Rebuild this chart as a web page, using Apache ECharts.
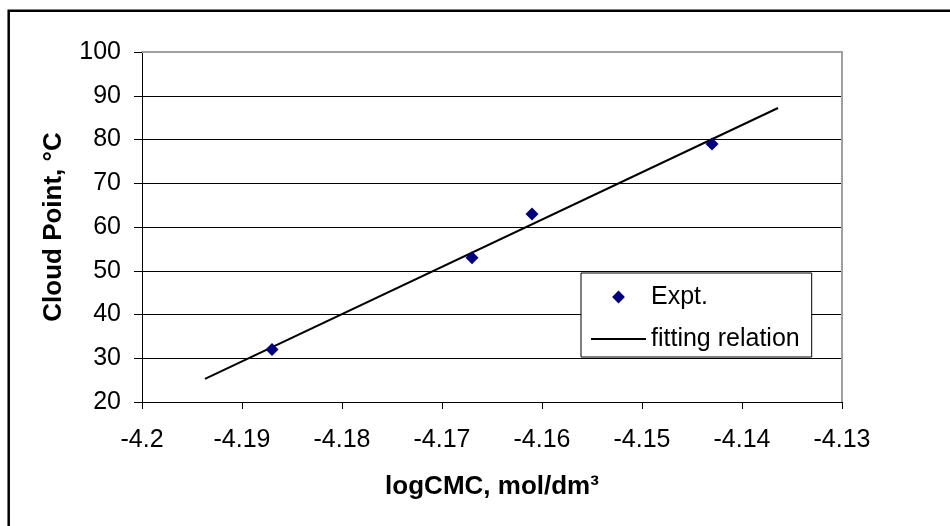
<!DOCTYPE html>
<html>
<head>
<meta charset="utf-8">
<title>Cloud point vs logCMC</title>
<script src="https://cdn.jsdelivr.net/npm/echarts@6/dist/echarts.min.js"></script>
<style>
  html, body { margin: 0; padding: 0; background: #fff; }
  #chart { width: 950px; height: 526px; }
</style>
</head>
<body>
<div id="chart"></div>
<script>
// Experimental cloud points
const exptLogCMC = [-4.187, -4.167, -4.161, -4.143];
const exptCloudPoint = [32, 53, 63, 79];

// End points of the fitted straight line
const fitLogCMC = [-4.1937, -4.1364];
const fitCloudPoint = [25.3, 87.2];

const seriesNames = ['Expt.', 'fitting relation'];
const xAxisTitle = 'logCMC, mol/dm\u00B3';
const yAxisTitle = 'Cloud Point, \u00B0C';

const FONT = '"Liberation Sans", Arial, sans-serif';

const chart = echarts.init(document.getElementById('chart'), null, { renderer: 'canvas' });

const zip = (xs, ys) => xs.map((x, i) => [x, ys[i]]);

chart.setOption({
  backgroundColor: '#ffffff',
  animation: false,
  grid: { left: 142, right: 108, top: 52, bottom: 124, containLabel: false },
  graphic: [{
    type: 'rect',
    shape: { x: 8.7, y: 10.7, width: 1200, height: 1200 },
    style: { fill: 'none', stroke: '#000', lineWidth: 2.5 },
    silent: true
  }],
  legend: {
    orient: 'vertical',
    left: 581,
    top: 273,
    padding: [11, 12, 5, 9],
    itemWidth: 55,
    itemHeight: 16,
    itemGap: 16,
    backgroundColor: '#fff',
    borderColor: '#000',
    borderWidth: 1,
    borderRadius: 0,
    textStyle: { fontFamily: FONT, fontSize: 25, lineHeight: 26, color: '#000' },
    data: [
      { name: seriesNames[0] },
      { name: seriesNames[1], itemStyle: { color: 'transparent', borderWidth: 0, opacity: 0 } }
    ]
  },
  xAxis: [{
    type: 'value',
    min: -4.2,
    max: -4.13,
    interval: 0.01,
    position: 'bottom',
    name: xAxisTitle,
    nameLocation: 'middle',
    nameGap: 72,
    nameTextStyle: { fontFamily: FONT, fontSize: 26, fontWeight: 'bold', color: '#000' },
    axisLine: { show: true, onZero: false, lineStyle: { color: '#000', width: 1 } },
    axisTick: { show: true, inside: false, length: 7, lineStyle: { color: '#000' } },
    axisLabel: {
      margin: 26,
      fontFamily: FONT,
      fontSize: 25,
      color: '#000',
      formatter: v => String(Number(v.toFixed(2)))
    },
    splitLine: { show: false }
  }, {
    type: 'value',
    min: -4.2,
    max: -4.13,
    interval: 0.01,
    position: 'top',
    axisLine: { show: true, onZero: false, lineStyle: { color: '#a0a0a0', width: 2 } },
    axisTick: { show: false },
    axisLabel: { show: false },
    splitLine: { show: false }
  }],
  yAxis: [{
    type: 'value',
    min: 20,
    max: 100,
    interval: 10,
    position: 'left',
    name: yAxisTitle,
    nameLocation: 'middle',
    nameGap: 75,
    nameTextStyle: { fontFamily: FONT, fontSize: 26, fontWeight: 'bold', color: '#000' },
    axisLine: { show: true, onZero: false, lineStyle: { color: '#000', width: 1 } },
    axisTick: { show: true, inside: false, length: 8, lineStyle: { color: '#000' } },
    axisLabel: { margin: 21, fontFamily: FONT, fontSize: 25, color: '#000' },
    splitLine: { show: true, showMaxLine: false, lineStyle: { color: '#000', width: 1 } }
  }, {
    type: 'value',
    min: 20,
    max: 100,
    interval: 10,
    position: 'right',
    axisLine: { show: true, onZero: false, lineStyle: { color: '#a0a0a0', width: 2 } },
    axisTick: { show: false },
    axisLabel: { show: false },
    splitLine: { show: false }
  }],
  series: [{
    name: seriesNames[1],
    type: 'line',
    data: zip(fitLogCMC, fitCloudPoint),
    showSymbol: false,
    symbol: 'none',
    lineStyle: { color: '#000', width: 2 },
    itemStyle: { color: '#000' },
    z: 3
  }, {
    name: seriesNames[0],
    type: 'line',
    data: zip(exptLogCMC, exptCloudPoint),
    symbol: 'diamond',
    symbolSize: 13,
    showSymbol: true,
    lineStyle: { width: 0, opacity: 0 },
    itemStyle: { color: '#000080' },
    z: 4
  }]
});
</script>
</body>
</html>
